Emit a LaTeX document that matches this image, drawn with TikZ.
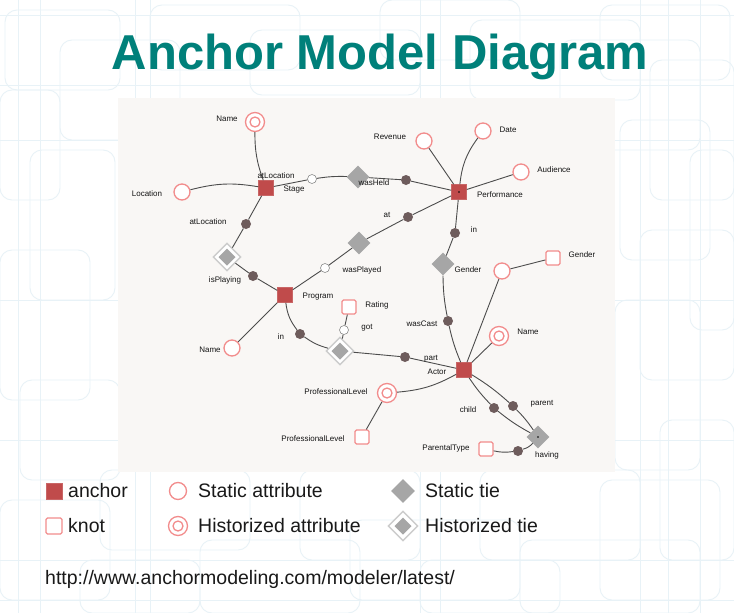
\documentclass[tikz,border=0pt]{standalone}
\usepackage{fontspec}
\setmainfont{Liberation Sans}
\usetikzlibrary{shapes.geometric}
\definecolor{anc}{RGB}{192,75,75}
\definecolor{attrc}{RGB}{242,140,140}
\definecolor{tiec}{RGB}{166,166,166}
\definecolor{rolec}{RGB}{110,92,92}
\definecolor{titlec}{RGB}{0,128,122}
\definecolor{panelc}{RGB}{249,247,245}
\definecolor{patc}{RGB}{232,242,247}
\begin{document}
\begin{tikzpicture}[x=1pt,y=1pt,
  anchorbox/.style={rectangle, fill=anc, draw=anc!85!white, line width=0.5pt, minimum size=15pt, inner sep=0pt},
  attr/.style={circle, draw=attrc, line width=1.3pt, fill=white, minimum size=16pt, inner sep=0pt},
  hattr/.style={attr, minimum size=19pt, path picture={\draw[attrc, line width=1.3pt] (path picture bounding box.center) circle (5pt);}},
  knot/.style={rectangle, rounded corners=1.5pt, draw=attrc, line width=1.2pt, fill=white, minimum size=14pt, inner sep=0pt},
  tie/.style={diamond, fill=tiec, minimum size=23pt, inner sep=0pt},
  htie/.style={diamond, draw=black!20, line width=1.4pt, fill=white, minimum size=28pt, inner sep=0pt,
    path picture={\fill[tiec] ([yshift=8.5pt]path picture bounding box.center) -- ([xshift=8.5pt]path picture bounding box.center) -- ([yshift=-8.5pt]path picture bounding box.center) -- ([xshift=-8.5pt]path picture bounding box.center) -- cycle;}},
  role/.style={circle, fill=rolec, minimum size=10pt, inner sep=0pt},
  wrole/.style={circle, draw=black!45, line width=0.6pt, fill=white, minimum size=9pt, inner sep=0pt},
  lbl/.style={font=\fontsize{8}{9}\selectfont, text=black!92, inner sep=0pt},
  edge/.style={draw=black!70, line width=0.9pt},
  leg/.style={font=\fontsize{19.5}{22}\selectfont, text=black!90, inner sep=0pt, anchor=west},
  pat/.style={draw=patc, line width=0.9pt, rounded corners=12pt}
]
\useasboundingbox (0,0) rectangle (734,-613);
\fill[white] (0,0) rectangle (734,-613);
% faint background pattern
\foreach \a/\b/\c/\d in {5/10/120/90, 60/40/180/140, 150/5/300/70, 250/30/420/95, 380/0/520/60, 470/20/640/100, 600/5/730/80, 650/60/734/200, 620/120/710/260, 640/230/734/380, 615/300/700/470, 660/420/734/560, 600/480/720/600, 480/470/640/560, 520/540/700/613, 350/520/520/600, 300/470/420/560, 200/540/360/613, 100/470/250/550, 0/500/110/600, 20/380/120/480, 0/250/90/400, 30/150/115/300, 0/90/60/200, 80/560/200/613, 420/560/560/613, 690/150/734/330, 560/40/700/150}
  \draw[pat] (\a,-\b) rectangle (\c,-\d);
\foreach \x in {18,40,135,150,420,440,640,668,700}
  \draw[patc, line width=0.7pt] (\x,0) -- (\x,-613);
\foreach \y in {15,85,140,300,440,560,600}
  \draw[patc, line width=0.7pt] (0,-\y) -- (734,-\y);
% panel
\fill[panelc] (118,-98) rectangle (615,-472);

% title
\node[font=\bfseries\fontsize{49}{55}\selectfont, text=titlec, anchor=base, inner sep=0pt] (title) at (380,-69) {Anchor Model Diagram};

% anchors
\node[anchorbox] (stage) at (266,-188) {};
\node[anchorbox] (perf) at (459,-192) {};
\node[anchorbox] (prog) at (285,-295) {};
\node[anchorbox] (actor) at (464,-370) {};
% static attributes
\node[attr] (loc) at (182,-192) {};
\node[attr] (rev) at (424,-141) {};
\node[attr] (date) at (483,-131) {};
\node[attr] (aud) at (521,-172) {};
\node[attr] (nameP) at (232,-348) {};
\node[attr] (genA) at (502,-271) {};
% historized attributes
\node[hattr] (nameS) at (255,-122) {};
\node[hattr] (nameA) at (499,-336) {};
\node[hattr] (prof) at (387,-393) {};
% knots
\node[knot] (rating) at (349,-307) {};
\node[knot] (genK) at (553,-258) {};
\node[knot] (profK) at (362,-437) {};
\node[knot] (ptype) at (486,-449) {};
% ties
\node[tie] (held) at (358,-177) {};
\node[tie] (played) at (359,-243) {};
\node[tie] (gen) at (443,-264) {};
\node[tie] (having) at (538,-437) {};
\node[htie] (playing) at (227,-257) {};
\node[htie] (got) at (340,-351) {};
% roles
\node[role] (r1) at (406,-180) {};
\node[role] (r2) at (408,-217) {};
\node[role] (r3) at (246,-224) {};
\node[role] (r4) at (253,-276) {};
\node[role] (r5) at (300,-334) {};
\node[role] (r6) at (405,-357) {};
\node[role] (r7) at (455,-233) {};
\node[role] (r8) at (448,-321) {};
\node[role] (r9) at (494,-408) {};
\node[role] (r10) at (513,-406) {};
\node[role] (r11) at (518,-451) {};
\node[wrole] (w1) at (312,-179) {};
\node[wrole] (w2) at (325,-268) {};
\node[wrole] (w3) at (344,-330) {};
% dots
\fill[black] (perf.center) circle (0.9pt);
\fill[black] (having.center) circle (0.9pt);

% edges
\draw[edge] (nameS) to[bend right=10] (stage);
\draw[edge] (loc) to[bend left=12] (stage);
\draw[edge] (stage) -- (w1);
\draw[edge] (w1) to[bend left=5] (held);
\draw[edge] (held) -- (r1);
\draw[edge] (r1) -- (perf);
\draw[edge] (perf) -- (rev);
\draw[edge] (perf) to[bend left=15] (date);
\draw[edge] (perf) -- (aud);
\draw[edge] (stage) -- (r3);
\draw[edge] (r3) -- (playing);
\draw[edge] (playing) -- (r4);
\draw[edge] (r4) -- (prog);
\draw[edge] (prog) -- (w2);
\draw[edge] (w2) -- (played);
\draw[edge] (played) -- (r2);
\draw[edge] (r2) -- (perf);
\draw[edge] (perf) -- (r7);
\draw[edge] (r7) -- (gen);
\draw[edge] (gen) to[bend right=5] (r8);
\draw[edge] (r8) to[bend right=5] (actor);
\draw[edge] (actor) -- (genA);
\draw[edge] (genA) -- (genK);
\draw[edge] (actor) -- (nameA);
\draw[edge] (prog) -- (nameP);
\draw[edge] (prog) to[bend right=15] (r5);
\draw[edge] (r5) to[bend right=10] (got);
\draw[edge] (got) -- (r6);
\draw[edge] (r6) -- (actor);
\draw[edge] (got) -- (w3);
\draw[edge] (w3) -- (rating);
\draw[edge] (actor) to[bend left=12] (prof);
\draw[edge] (prof) -- (profK);
\draw[edge] (actor) to[bend right=5] (r9);
\draw[edge] (r9) to[bend right=5] (having);
\draw[edge] (actor) to[bend left=5] (r10);
\draw[edge] (r10) to[bend left=5] (having);
\draw[edge] (having) to[bend left=15] (r11);
\draw[edge] (r11) to[bend left=10] (ptype);

% labels
\node[lbl] (lnameS) at (227,-119) {Name};
\node[lbl] (latloc1) at (276,-176) {atLocation};
\node[lbl] (lstage) at (294,-190) {Stage};
\node[lbl] (lloc) at (147,-194) {Location};
\node[lbl] (lheld) at (374,-183) {wasHeld};
\node[lbl] (lrev) at (390,-137) {Revenue};
\node[lbl] (ldate) at (508,-130) {Date};
\node[lbl] (laud) at (554,-170) {Audience};
\node[lbl] (lperf) at (500,-195) {Performance};
\node[lbl] (lat) at (387,-215) {at};
\node[lbl] (lin1) at (474,-230) {in};
\node[lbl] (latloc2) at (208,-222) {atLocation};
\node[lbl] (lplayed) at (362,-270) {wasPlayed};
\node[lbl] (lplaying) at (225,-280) {isPlaying};
\node[lbl] (lprog) at (318,-297) {Program};
\node[lbl] (lgen) at (468,-270) {Gender};
\node[lbl] (lgenK) at (582,-255) {Gender};
\node[lbl] (lrating) at (377,-305) {Rating};
\node[lbl] (lgot) at (367,-328) {got};
\node[lbl] (lcast) at (422,-324) {wasCast};
\node[lbl] (lnameA) at (528,-332) {Name};
\node[lbl] (lin2) at (281,-337) {in};
\node[lbl] (lnameP) at (210,-350) {Name};
\node[lbl] (lpart) at (431,-359) {part};
\node[lbl] (lactor) at (437,-372) {Actor};
\node[lbl] (lprof) at (336,-392) {ProfessionalLevel};
\node[lbl] (lprofK) at (313,-439) {ProfessionalLevel};
\node[lbl] (lchild) at (468,-410) {child};
\node[lbl] (lparent) at (542,-404) {parent};
\node[lbl] (lptype) at (446,-448) {ParentalType};
\node[lbl] (lhaving) at (547,-455) {having};

% legend
\node[anchorbox, minimum size=16pt] (kAnchor) at (54,-491) {};
\node[leg] (tAnchor) at (68,-491) {anchor};
\node[attr, minimum size=17pt] (kSattr) at (178,-491) {};
\node[leg] (tSattr) at (198,-491) {Static attribute};
\node[tie, minimum size=24pt] (kStie) at (403,-491) {};
\node[leg] (tStie) at (425,-491) {Static tie};
\node[knot, minimum size=16pt] (kKnot) at (54,-526) {};
\node[leg] (tKnot) at (68,-526) {knot};
\node[hattr, minimum size=19pt] (kHattr) at (178,-526) {};
\node[leg] (tHattr) at (198,-526) {Historized attribute};
\node[htie, minimum size=30pt] (kHtie) at (403,-526) {};
\node[leg] (tHtie) at (425,-526) {Historized tie};
\node[leg] (url) at (45,-579) {http://www.anchormodeling.com/modeler/latest/};
\end{tikzpicture}
\end{document}
